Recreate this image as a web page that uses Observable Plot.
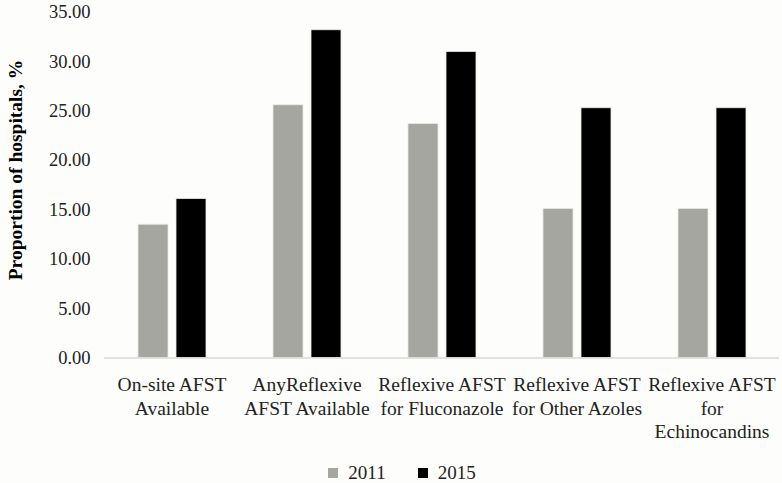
<!DOCTYPE html>
<html>
<head>
<meta charset="utf-8">
<script src="https://cdn.jsdelivr.net/npm/d3@7"></script>
<script src="https://cdn.jsdelivr.net/npm/@observablehq/plot@0.6"></script>
<style>
  html, body { margin: 0; padding: 0; background: #fdfdfb; }
  #chart { width: 782px; height: 483px; position: relative; }
  #chart svg text { font-family: "Liberation Serif", serif !important; }
  .legend { display: flex; justify-content: center; align-items: center; font-family: "Liberation Serif", serif; font-size: 19px; color: #222; height: 24px; margin-left: 22px; margin-top: 6px; }
  .legend .item { display: flex; align-items: center; margin: 0 16px; font-family: "Liberation Serif", serif; }
  .legend .sw { width: 10px; height: 10px; margin-right: 10px; display: inline-block; }
</style>
</head>
<body>
<div id="chart"></div>
<script>
const categories = [
  "On-site AFST Available",
  "AnyReflexive AFST Available",
  "Reflexive AFST for Fluconazole",
  "Reflexive AFST for Other Azoles",
  "Reflexive AFST for Echinocandins"
];
const tickLabels = [
  "On-site AFST\nAvailable",
  "AnyReflexive\nAFST Available",
  "Reflexive AFST\nfor Fluconazole",
  "Reflexive AFST\nfor Other Azoles",
  "Reflexive AFST\nfor\nEchinocandins"
];
const years = ["2011", "2015"];
const values2011 = [13.5, 25.6, 23.7, 15.1, 15.1];
const values2015 = [16.1, 33.2, 31.0, 25.3, 25.3];
const yTicks = [0, 5, 10, 15, 20, 25, 30, 35];
const colors = ["#a5a6a0", "#000000"];

const data = [];
categories.forEach((c, i) => {
  data.push({category: c, year: years[0], value: values2011[i]});
  data.push({category: c, year: years[1], value: values2015[i]});
});
const labelMap = new Map(categories.map((c, i) => [c, tickLabels[i]]));

const plot = Plot.plot({
  width: 782,
  height: 455,
  marginLeft: 102,
  marginRight: 2,
  marginTop: 12,
  marginBottom: 97.5,
  style: "background: transparent; font-family: 'Liberation Serif', serif; font-size: 18.5px; color: #222;",
  fx: {domain: categories, paddingInner: 0, paddingOuter: 0, label: null},
  x: {domain: years, paddingInner: 0.223, paddingOuter: 0.868, axis: null},
  y: {domain: [0, 35], label: null},
  color: {domain: years, range: colors},
  marks: [
    Plot.axisY({ticks: yTicks, tickSize: 0, tickPadding: 14, tickFormat: d => d.toFixed(2), fontSize: 18.5}),
    Plot.axisFx({anchor: "bottom", tickSize: 0, tickPadding: 16, tickFormat: d => labelMap.get(d), lineHeight: 1.22, fontSize: 19.5}),
    Plot.barY(data, {fx: "category", x: "year", y: "value", fill: "year", stroke: "#e8e8e4", strokeWidth: 0.8}),
    Plot.ruleY([0], {stroke: "#d9d9d9", strokeWidth: 1.5})
  ]
});

const svg = d3.select(plot);
svg.append("text")
  .attr("transform", "translate(22,170) rotate(-90)")
  .attr("text-anchor", "middle")
  .attr("font-family", "'Liberation Serif', serif")
  .attr("font-weight", "bold")
  .attr("font-size", 19.5)
  .attr("fill", "#000")
  .text("Proportion of hospitals, %");

const chart = document.getElementById("chart");
chart.appendChild(plot);

const legend = document.createElement("div");
legend.className = "legend";
years.forEach((y, i) => {
  const item = document.createElement("span");
  item.className = "item";
  const sw = document.createElement("span");
  sw.className = "sw";
  sw.style.background = colors[i];
  item.appendChild(sw);
  item.appendChild(document.createTextNode(y));
  legend.appendChild(item);
});
chart.appendChild(legend);
</script>
</body>
</html>
